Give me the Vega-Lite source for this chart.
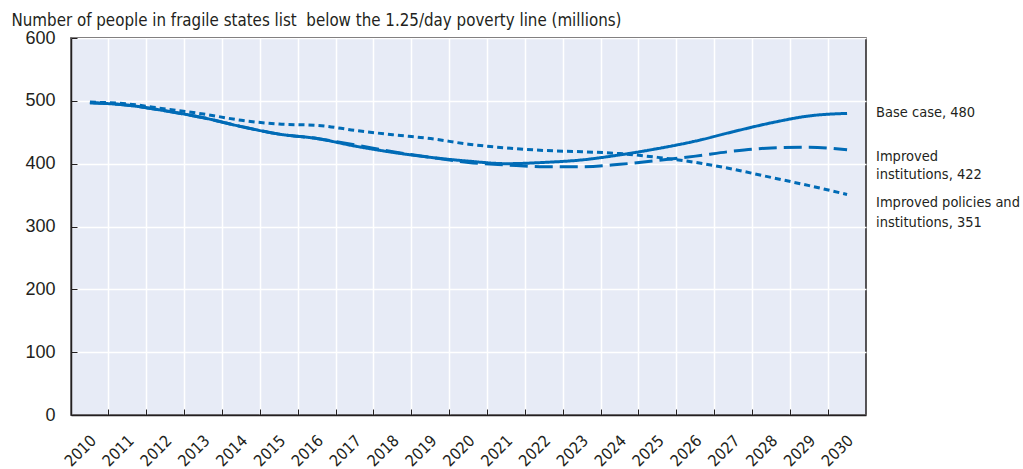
{
  "$schema": "https://vega.github.io/schema/vega-lite/v6.json",
  "width": 795,
  "height": 377,
  "autosize": "none",
  "padding": {"left": 71, "top": 38, "right": 157, "bottom": 54},
  "background": "white",
  "config": {
    "view": {"fill": "#e7ebf6", "stroke": "#231f20", "strokeWidth": 1.5},
    "axis": {
      "domainColor": "#231f20",
      "domainWidth": 1.5,
      "tickColor": "#231f20",
      "tickWidth": 1,
      "gridColor": "#ffffff",
      "gridWidth": 1.5,
      "gridOpacity": 1,
      "labelColor": "#231f20"
    }
  },
  "datasets": {
    "series": [
      {"series": "Base case", "year": 2010, "value": 497},
      {"series": "Base case", "year": 2011, "value": 493},
      {"series": "Base case", "year": 2012, "value": 484},
      {"series": "Base case", "year": 2013, "value": 473},
      {"series": "Base case", "year": 2014, "value": 459},
      {"series": "Base case", "year": 2015, "value": 447},
      {"series": "Base case", "year": 2016, "value": 440},
      {"series": "Base case", "year": 2017, "value": 428},
      {"series": "Base case", "year": 2018, "value": 418},
      {"series": "Base case", "year": 2019, "value": 410},
      {"series": "Base case", "year": 2020, "value": 404},
      {"series": "Base case", "year": 2021, "value": 400},
      {"series": "Base case", "year": 2022, "value": 402},
      {"series": "Base case", "year": 2023, "value": 406},
      {"series": "Base case", "year": 2024, "value": 414},
      {"series": "Base case", "year": 2025, "value": 424},
      {"series": "Base case", "year": 2026, "value": 436},
      {"series": "Base case", "year": 2027, "value": 451},
      {"series": "Base case", "year": 2028, "value": 465},
      {"series": "Base case", "year": 2029, "value": 476},
      {"series": "Base case", "year": 2030, "value": 480},
      {"series": "Improved institutions", "year": 2010, "value": 497},
      {"series": "Improved institutions", "year": 2011, "value": 493},
      {"series": "Improved institutions", "year": 2012, "value": 484},
      {"series": "Improved institutions", "year": 2013, "value": 473},
      {"series": "Improved institutions", "year": 2014, "value": 459},
      {"series": "Improved institutions", "year": 2015, "value": 447},
      {"series": "Improved institutions", "year": 2016, "value": 440},
      {"series": "Improved institutions", "year": 2017, "value": 430},
      {"series": "Improved institutions", "year": 2018, "value": 419},
      {"series": "Improved institutions", "year": 2019, "value": 410},
      {"series": "Improved institutions", "year": 2020, "value": 402},
      {"series": "Improved institutions", "year": 2021, "value": 398},
      {"series": "Improved institutions", "year": 2022, "value": 395},
      {"series": "Improved institutions", "year": 2023, "value": 395},
      {"series": "Improved institutions", "year": 2024, "value": 399},
      {"series": "Improved institutions", "year": 2025, "value": 405},
      {"series": "Improved institutions", "year": 2026, "value": 412},
      {"series": "Improved institutions", "year": 2027, "value": 420},
      {"series": "Improved institutions", "year": 2028, "value": 425},
      {"series": "Improved institutions", "year": 2029, "value": 426},
      {"series": "Improved institutions", "year": 2030, "value": 422},
      {"series": "Improved policies and institutions", "year": 2010, "value": 498},
      {"series": "Improved policies and institutions", "year": 2011, "value": 495},
      {"series": "Improved policies and institutions", "year": 2012, "value": 487},
      {"series": "Improved policies and institutions", "year": 2013, "value": 479},
      {"series": "Improved policies and institutions", "year": 2014, "value": 469},
      {"series": "Improved policies and institutions", "year": 2015, "value": 463},
      {"series": "Improved policies and institutions", "year": 2016, "value": 461},
      {"series": "Improved policies and institutions", "year": 2017, "value": 453},
      {"series": "Improved policies and institutions", "year": 2018, "value": 446},
      {"series": "Improved policies and institutions", "year": 2019, "value": 440},
      {"series": "Improved policies and institutions", "year": 2020, "value": 431},
      {"series": "Improved policies and institutions", "year": 2021, "value": 425},
      {"series": "Improved policies and institutions", "year": 2022, "value": 421},
      {"series": "Improved policies and institutions", "year": 2023, "value": 419},
      {"series": "Improved policies and institutions", "year": 2024, "value": 416},
      {"series": "Improved policies and institutions", "year": 2025, "value": 410},
      {"series": "Improved policies and institutions", "year": 2026, "value": 402},
      {"series": "Improved policies and institutions", "year": 2027, "value": 391},
      {"series": "Improved policies and institutions", "year": 2028, "value": 378},
      {"series": "Improved policies and institutions", "year": 2029, "value": 365},
      {"series": "Improved policies and institutions", "year": 2030, "value": 351}
    ],
    "labels": [
      {"series": "Base case", "year": 2030, "value": 480, "label": "Base case, 480"},
      {"series": "Improved institutions", "year": 2030, "value": 422, "label": "Improved\ninstitutions, 422"},
      {"series": "Improved policies and institutions", "year": 2030, "value": 351, "label": "Improved policies and\ninstitutions, 351"}
    ]
  },
  "encoding": {
    "x": {
      "field": "year",
      "type": "ordinal",
      "scale": {
        "type": "band",
        "domain": [2010, 2011, 2012, 2013, 2014, 2015, 2016, 2017, 2018, 2019, 2020, 2021, 2022, 2023, 2024, 2025, 2026, 2027, 2028, 2029, 2030],
        "paddingInner": 0,
        "paddingOuter": 0
      },
      "axis": {
        "title": null,
        "bandPosition": 0,
        "grid": true,
        "ticks": true,
        "tickSize": -6,
        "labelOffset": -2,
        "labelAngle": -45,
        "labelAlign": "right",
        "labelBaseline": "top",
        "labelPadding": 23,
        "labelFont": "Liberation Sans Narrow, Arial Narrow, DejaVu Sans Condensed, Roboto Condensed, Liberation Sans, sans-serif",
        "labelFontSize": 16,
        "labelOverlap": false
      }
    },
    "y": {
      "field": "value",
      "type": "quantitative",
      "scale": {"domain": [0, 600], "nice": false, "zero": true},
      "axis": {
        "title": "Number of people in fragile states list\u00a0 below the 1.25/day poverty line (millions)",
        "titleAngle": 0,
        "titleAlign": "left",
        "titleBaseline": "alphabetic",
        "titleX": -60,
        "titleY": -13,
        "titleFont": "Liberation Sans Narrow, Arial Narrow, DejaVu Sans Condensed, Roboto Condensed, Liberation Sans, sans-serif",
        "titleFontSize": 16.8,
        "titleFontWeight": "normal",
        "titleColor": "#231f20",
        "values": [0, 100, 200, 300, 400, 500, 600],
        "grid": true,
        "tickSize": -6,
        "labelPadding": 22,
        "labelFont": "Liberation Sans, Arial, sans-serif",
        "labelFontSize": 18,
        "labelOverlap": false,
        "labelFlush": false
      }
    }
  },
  "layer": [
    {
      "data": {"name": "series"},
      "mark": {"type": "line", "strokeWidth": 3, "color": "#006bb6", "interpolate": "monotone", "clip": false},
      "encoding": {
        "strokeDash": {
          "field": "series",
          "type": "nominal",
          "scale": {
            "domain": ["Base case", "Improved institutions", "Improved policies and institutions"],
            "range": [[1, 0], [18, 7], [6, 4]]
          },
          "legend": null
        },
        "detail": {"field": "series", "type": "nominal"}
      }
    },
    {
      "data": {"name": "labels"},
      "transform": [{"filter": "datum.series === 'Base case'"}],
      "mark": {"type": "text", "align": "left", "baseline": "middle", "dx": 29, "dy": 0, "font": "Liberation Sans Narrow, Arial Narrow, DejaVu Sans Condensed, Roboto Condensed, Liberation Sans, sans-serif", "fontSize": 14.5, "color": "#231f20", "lineBreak": "\n", "lineHeight": 19},
      "encoding": {"text": {"field": "label", "type": "nominal"}}
    },
    {
      "data": {"name": "labels"},
      "transform": [{"filter": "datum.series === 'Improved institutions'"}],
      "mark": {"type": "text", "align": "left", "baseline": "middle", "dx": 29, "dy": 7, "font": "Liberation Sans Narrow, Arial Narrow, DejaVu Sans Condensed, Roboto Condensed, Liberation Sans, sans-serif", "fontSize": 14.5, "color": "#231f20", "lineBreak": "\n", "lineHeight": 18},
      "encoding": {"text": {"field": "label", "type": "nominal"}}
    },
    {
      "data": {"name": "labels"},
      "transform": [{"filter": "datum.series === 'Improved policies and institutions'"}],
      "mark": {"type": "text", "align": "left", "baseline": "middle", "dx": 29, "dy": 8.5, "font": "Liberation Sans Narrow, Arial Narrow, DejaVu Sans Condensed, Roboto Condensed, Liberation Sans, sans-serif", "fontSize": 14.5, "color": "#231f20", "lineBreak": "\n", "lineHeight": 20},
      "encoding": {"text": {"field": "label", "type": "nominal"}}
    }
  ]
}
